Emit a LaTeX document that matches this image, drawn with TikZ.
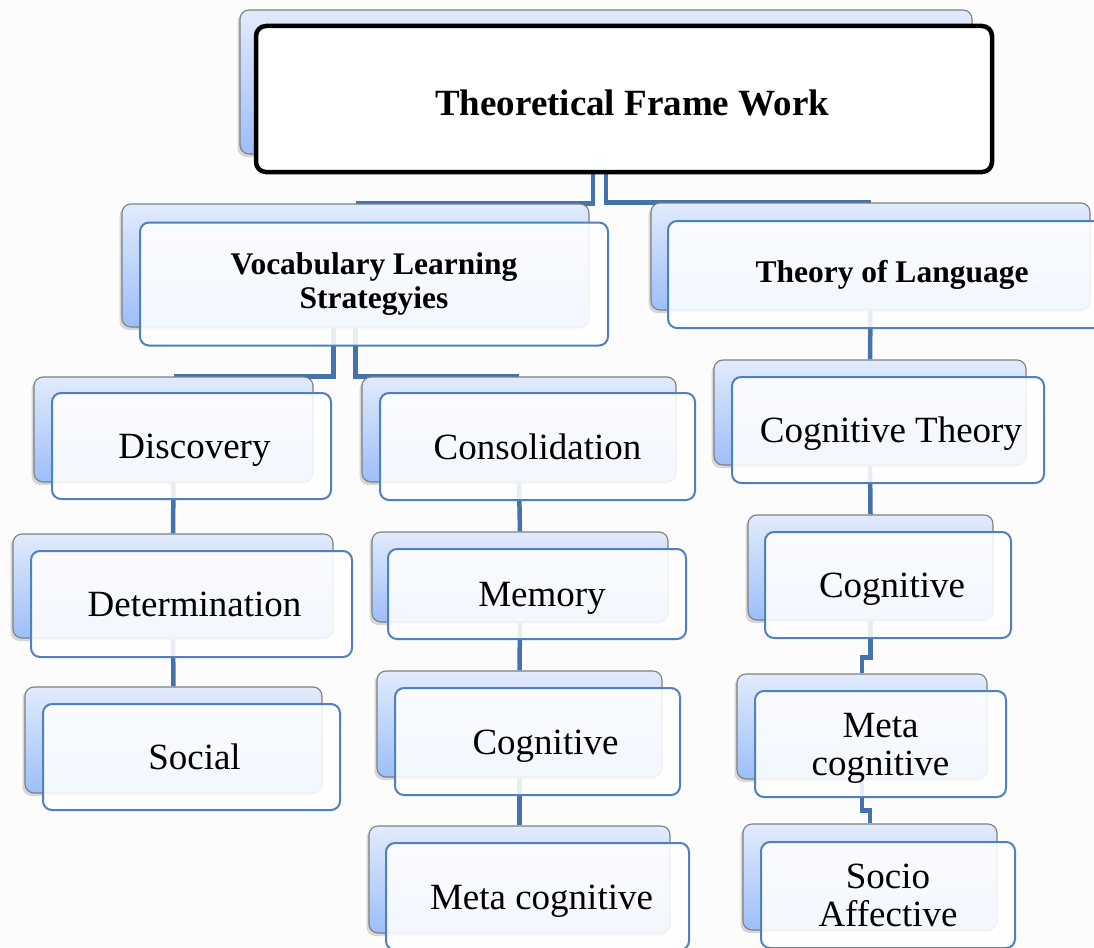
\documentclass[tikz,border=0pt]{standalone}
\usepackage{fontspec}
\setmainfont{Liberation Serif}
\usetikzlibrary{shadows}
\definecolor{bgc}{HTML}{FCFCFC}
\definecolor{conc}{HTML}{4472AA}
\definecolor{frameb}{HTML}{4F81BD}
\definecolor{backtop}{HTML}{E1EBFC}
\definecolor{backbot}{HTML}{9DBEF9}
\definecolor{backline}{HTML}{7F7F7F}
\pgfdeclarelayer{bglayer}
\pgfdeclarelayer{connlayer}
\pgfsetlayers{bglayer,connlayer,main}
\begin{document}
\begin{tikzpicture}[x=1pt,y=-1pt,
  backbox/.style={rounded corners=9pt, draw=backline, line width=1.1pt,
    top color=backtop, bottom color=backbot, inner sep=0pt,
    drop shadow={shadow xshift=-2.5pt, shadow yshift=-3pt, opacity=0.3}},
  frontbox/.style={rounded corners=9pt, draw=frameb, line width=2pt,
    fill=white, fill opacity=0.88, text opacity=1, inner sep=0pt,
    align=center, font=\fontsize{37}{38}\selectfont},
  oneline/.style={text height=30pt, text depth=4.5pt},
  topfront/.style={rounded corners=10pt, draw=black, line width=4.5pt,
    fill=white, inner sep=0pt, align=center, text height=36pt, text depth=2pt,
    font=\fontsize{37}{40}\selectfont\bfseries},
  lvltwo/.style={font=\fontsize{31.5}{33.5}\selectfont\bfseries},
  conn/.style={draw=conc, line width=4.5pt}]
\useasboundingbox (0,0) rectangle (1094,947);
\begin{pgfonlayer}{bglayer}
\fill[bgc] (0,0) rectangle (1094,947);
\end{pgfonlayer}

% top
\node[backbox, minimum width=732pt, minimum height=144pt] (topb) at (606,82) {};
\node[topfront, minimum width=736pt, minimum height=146pt] (top) at (624,99) {\hspace*{16pt}Theoretical Frame Work};

% level two
\node[backbox, minimum width=467pt, minimum height=123pt] (vlsb) at (355.5,265.5) {};
\node[frontbox, lvltwo, minimum width=468pt, minimum height=123pt] (vls) at (374,284) {Vocabulary Learning\\Strategyies};

\node[backbox, minimum width=439pt, minimum height=107pt] (tolb) at (870.5,256.5) {};
\node[frontbox, lvltwo, minimum width=440pt, minimum height=107pt] (tol) at (888,274.5) {\hspace*{8pt}Theory of Language};

% level three
\node[backbox, minimum width=279pt, minimum height=105pt] (discb) at (173.5,429.5) {};
\node[frontbox, oneline, minimum width=279pt, minimum height=106pt] (disc) at (191.5,446) {\hspace*{6pt}Discovery};

\node[backbox, minimum width=314pt, minimum height=105pt] (consb) at (519,429.5) {};
\node[frontbox, oneline, minimum width=315pt, minimum height=107pt] (cons) at (537.5,446.5) {Consolidation};

\node[backbox, minimum width=312pt, minimum height=105pt] (cogtb) at (870,412.5) {};
\node[frontbox, oneline, minimum width=312pt, minimum height=106pt] (cogt) at (888,430) {\hspace*{6pt}Cognitive Theory};

% left column
\node[backbox, minimum width=320pt, minimum height=104pt] (detb) at (173,586) {};
\node[frontbox, oneline, minimum width=321pt, minimum height=106pt] (det) at (191.5,604) {\hspace*{6pt}Determination};

\node[backbox, minimum width=297pt, minimum height=106pt] (socb) at (173.5,740) {};
\node[frontbox, oneline, minimum width=297pt, minimum height=106pt] (soc) at (191.5,757) {\hspace*{6pt}Social};

% middle column
\node[backbox, minimum width=296pt, minimum height=90pt] (memb) at (520,577) {};
\node[frontbox, oneline, minimum width=298pt, minimum height=90pt] (mem) at (537,594) {\hspace*{10pt}Memory};

\node[backbox, minimum width=285pt, minimum height=106pt] (cogmb) at (519.5,724) {};
\node[frontbox, oneline, minimum width=285pt, minimum height=107pt] (cogm) at (537.5,741.5) {\hspace*{16pt}Cognitive};

\node[backbox, minimum width=301pt, minimum height=107pt] (metamb) at (519.5,879.5) {};
\node[frontbox, oneline, minimum width=303pt, minimum height=107pt] (metam) at (537.5,896.5) {\hspace*{8pt}Meta cognitive};

% right column
\node[backbox, minimum width=245pt, minimum height=105pt] (cogrb) at (870.5,567.5) {};
\node[frontbox, oneline, minimum width=246pt, minimum height=106pt] (cogr) at (888,585) {\hspace*{8pt}Cognitive};

\node[backbox, minimum width=250pt, minimum height=105pt] (metarb) at (862,726.5) {};
\node[frontbox, minimum width=251pt, minimum height=106pt] (metar) at (880.5,744) {\rule{0pt}{33pt}Meta\\cognitive};

\node[backbox, minimum width=254pt, minimum height=106pt] (socab) at (870,877) {};
\node[frontbox, minimum width=254pt, minimum height=106pt] (soca) at (888,895) {Socio\\Affective};

% connectors
\begin{pgfonlayer}{connlayer}
\draw[conn] ([xshift=-13pt]topb.south) |- (vlsb.north);
\draw[conn] (topb.south) |- (tolb.north);
\draw[conn] ([xshift=-22pt]vlsb.south) |- (discb.north);
\draw[conn] (vlsb.south) |- (consb.north);
\draw[conn] (tolb.south) -- (cogtb.north);
\draw[conn] (discb.south) -- (detb.north);
\draw[conn] (detb.south) -- (socb.north);
\draw[conn] (consb.south) -- (memb.north);
\draw[conn] (memb.south) -- (cogmb.north);
\draw[conn] (cogmb.south) -- (metamb.north);
\draw[conn] (cogtb.south) -- (cogrb.north);
\draw[conn] (cogrb.south) -- ++(0,37) -| (metarb.north);
\draw[conn] (metarb.south) -- ++(0,31) -| (socab.north);
\end{pgfonlayer}
\end{tikzpicture}
\end{document}
